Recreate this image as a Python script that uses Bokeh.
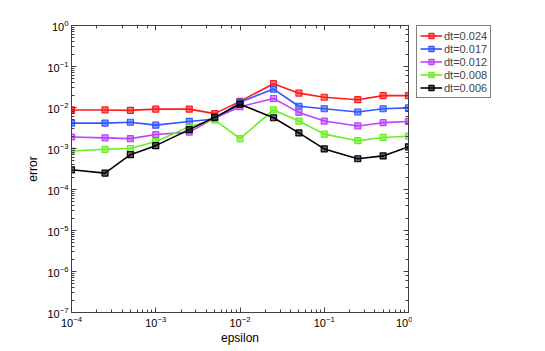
from bokeh.plotting import figure
from bokeh.layouts import row
from bokeh.models import LogAxis, Legend, LegendItem, Range1d, LogTicker, CustomJSTickFormatter
from bokeh.embed import file_html
from bokeh.resources import INLINE

epsilon = [1e-4, 2.5e-4, 5e-4, 1e-3, 2.5e-3, 5e-3, 1e-2, 2.5e-2, 5e-2, 1e-1, 2.5e-1, 5e-1, 1.0]

labels = ["dt=0.024", "dt=0.017", "dt=0.012", "dt=0.008", "dt=0.006"]
colors = ["#ff1a1a", "#3355ff", "#bf40ff", "#66f020", "#000000"]

log_err_024 = [-2.06, -2.06, -2.07, -2.04, -2.04, -2.15, -1.85, -1.42, -1.65, -1.75, -1.81, -1.71, -1.71]
log_err_017 = [-2.38, -2.38, -2.36, -2.43, -2.34, -2.28, -1.87, -1.55, -1.97, -2.03, -2.11, -2.03, -2.01]
log_err_012 = [-2.72, -2.74, -2.76, -2.66, -2.60, -2.26, -1.98, -1.78, -2.12, -2.33, -2.45, -2.37, -2.34]
log_err_008 = [-3.06, -3.02, -3.00, -2.83, -2.47, -2.30, -2.76, -2.06, -2.33, -2.65, -2.81, -2.73, -2.70]
log_err_006 = [-3.52, -3.60, -3.15, -2.93, -2.54, -2.24, -1.92, -2.25, -2.62, -3.01, -3.25, -3.18, -2.96]

series = [log_err_024, log_err_017, log_err_012, log_err_008, log_err_006]

p = figure(width=412, height=348, x_axis_type="log", y_axis_type="log",
           x_range=Range1d(1e-4, 1.0), y_range=Range1d(1e-7, 1.0),
           output_backend="svg", toolbar_location=None,
           min_border_left=71, min_border_right=4, min_border_top=25, min_border_bottom=36)
p.xgrid.visible = False
p.ygrid.visible = False
p.outline_line_color = None
p.background_fill_color = "white"
p.border_fill_color = "white"

# legend panel: a separate figure holding proxy glyphs (no visible data) in the same styles
nan = float("nan")
pl = figure(width=128, height=348, x_axis_type=None, y_axis_type=None,
            x_range=Range1d(0, 1), y_range=Range1d(0, 1),
            output_backend="svg", toolbar_location=None,
            min_border_left=4, min_border_right=0, min_border_top=25, min_border_bottom=0)
pl.xgrid.visible = False
pl.ygrid.visible = False
pl.outline_line_color = None
pl.border_fill_color = "white"

items = []
for lab, col, s in zip(labels, colors, series):
    ys = [10 ** v for v in s]
    p.line(epsilon, ys, line_color=col, line_width=1.6)
    p.scatter(epsilon, ys, marker="square", size=6, line_color=col, fill_color=col,
              fill_alpha=0.6, line_width=1.2)
    l1 = pl.line([nan], [nan], line_color=col, line_width=1.6)
    l2 = pl.scatter([nan], [nan], marker="square", size=6, line_color=col, fill_color=col,
                    fill_alpha=0.6, line_width=1.2)
    items.append(LegendItem(label=lab, renderers=[l1, l2]))

def style(ax):
    ax.major_tick_in = 5
    ax.major_tick_out = 0
    ax.minor_tick_in = 3
    ax.minor_tick_out = 0
    ax.axis_line_color = "#404040"
    ax.major_tick_line_color = "#404040"
    ax.minor_tick_line_color = "#404040"
    ax.major_label_text_font = "Liberation Sans"
    ax.major_label_text_font_size = "11px"
    ax.major_label_text_color = "black"
    ax.axis_label_text_font = "Liberation Sans"
    ax.axis_label_text_font_size = "12px"
    ax.axis_label_text_font_style = "normal"
    ax.axis_label_text_color = "black"

for ax in p.xaxis + p.yaxis:
    style(ax)
p.xaxis.axis_label = "epsilon"
p.yaxis.axis_label = "error"
p.xaxis.axis_label_standoff = 1
p.yaxis.axis_label_standoff = 4
p.xaxis.major_label_standoff = 3
p.yaxis.major_label_standoff = 3

blank = CustomJSTickFormatter(code="return ''")
top = LogAxis(ticker=LogTicker(), formatter=blank)
right = LogAxis(ticker=LogTicker(), formatter=blank)
style(top)
style(right)
top.major_label_standoff = 0
right.major_label_standoff = 0
p.add_layout(top, "above")
p.add_layout(right, "right")

legend = Legend(items=items, location="top_left")
legend.border_line_color = "black"
legend.border_line_width = 1
legend.label_text_font = "Liberation Sans"
legend.label_text_font_size = "11px"
legend.glyph_width = 22
legend.glyph_height = 13
legend.label_height = 13
legend.spacing = 0
legend.padding = 3
legend.margin = 0
legend.label_standoff = 2
legend.background_fill_alpha = 1.0
pl.add_layout(legend, "center")

layout = row(p, pl)
open("out.html", "w").write(file_html(layout, INLINE))
